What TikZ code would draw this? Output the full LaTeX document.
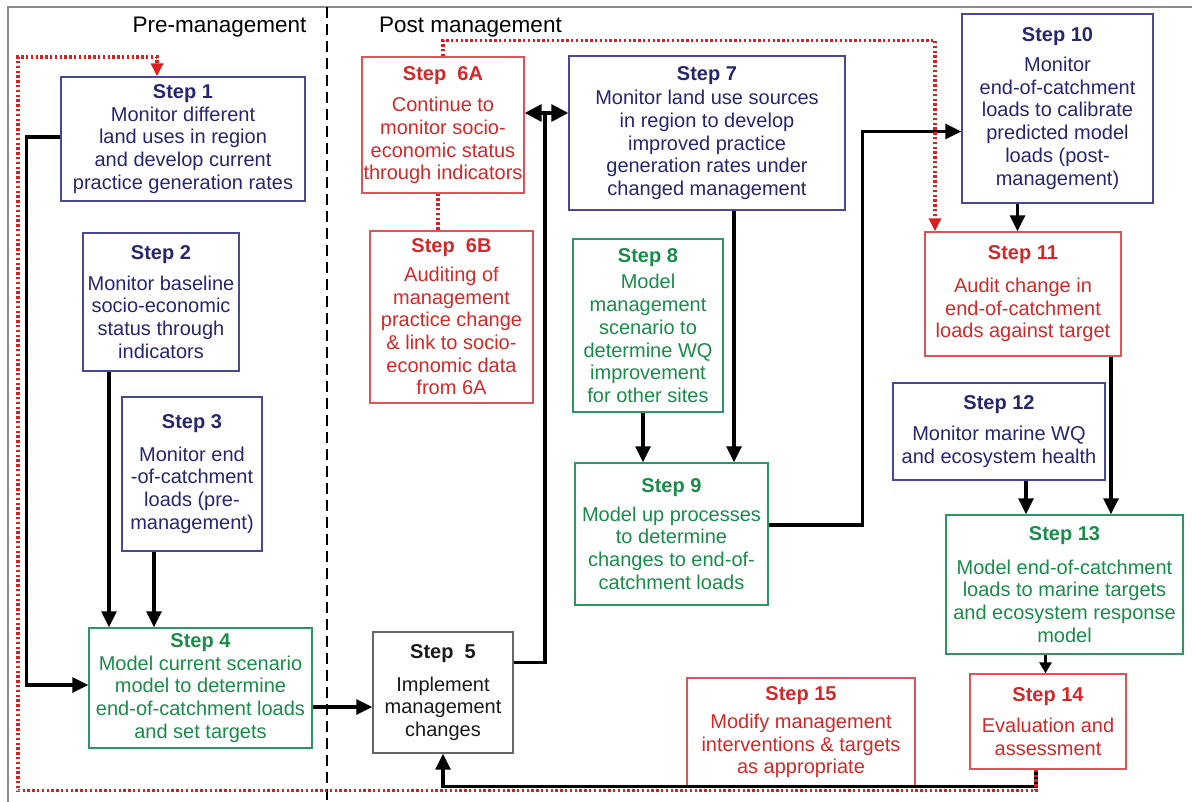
\documentclass[tikz,border=0pt]{standalone}
\usepackage{fontspec}
\setmainfont{Liberation Sans}
\usetikzlibrary{arrows.meta,positioning,calc}

\definecolor{navyline}{RGB}{72,72,150}
\definecolor{navytext}{RGB}{38,38,112}
\definecolor{redline}{RGB}{222,84,84}
\definecolor{redtext}{RGB}{212,40,40}
\definecolor{greenline}{RGB}{46,150,100}
\definecolor{greentext}{RGB}{24,140,72}
\definecolor{framegray}{RGB}{140,140,140}
\definecolor{loopred}{RGB}{222,30,30}

\tikzset{
  stepbox/.style={draw, line width=1.4pt, align=center, inner sep=1pt,
    font=\fontsize{20}{22.7}\selectfont},
  monitor/.style={stepbox, draw=navyline, text=navytext},
  audit/.style={stepbox, draw=redline, text=redtext},
  model/.style={stepbox, draw=greenline, text=greentext},
  action/.style={stepbox, draw=black!60, text=black!90},
  flow/.style={line width=3.2pt, -{Triangle[length=16pt,width=15pt]}},
  feedback/.style={loopred, line width=3.2pt, dash pattern=on 2.4pt off 2.4pt},
  phase/.style={font=\fontsize{22.5}{26}\selectfont, anchor=base},
}

\begin{document}
\begin{tikzpicture}[x=1pt, y=-1pt]
    \useasboundingbox (0,0) rectangle (1192,802);

    % Frame and phase divider
    \draw[framegray, line width=1.2pt] (8,802) -- (8,7) -- (1192,7);
    \draw[line width=2.4pt, dash pattern=on 11pt off 6pt] (327,7) -- (327,802);
    \node[phase] (pre) at (219.5,33) {Pre-management};
    \node[phase] (post) at (470.5,33) {Post management};

    % Pre-management steps
    \node[monitor, minimum width=244pt, minimum height=124pt] (s1) at (183,139)
        {\textbf{Step 1}\\Monitor different\\land uses in region\\and develop current\\practice generation rates};
    \node[monitor, minimum width=156pt, minimum height=138pt] (s2) at (161,302)
        {\textbf{Step 2}\\[8pt]Monitor baseline\\socio-economic\\status through\\indicators};
    \node[monitor, minimum width=140pt, minimum height=154pt] (s3) at (192,474)
        {\textbf{Step 3}\\[10pt]Monitor end\\-of-catchment\\loads (pre-\\management)};
    \node[model, minimum width=223pt, minimum height=120pt] (s4) at (200.5,688)
        {\textbf{Step 4}\\Model current scenario\\model to determine\\end-of-catchment loads\\and set targets};

    % Post management steps
    \node[action, minimum width=140pt, minimum height=121pt] (s5) at (443,692.5)
        {\textbf{Step~~5}\\[10pt]Implement\\management\\changes};
    \node[audit, minimum width=162pt, minimum height=136pt] (s6a) at (443,125)
        {\textbf{Step~~6A}\\[9pt]Continue to\\monitor socio-\\economic status\\through indicators};
    \node[audit, minimum width=163pt, minimum height=172pt] (s6b) at (451.5,317)
        {\textbf{Step~~6B}\\[6pt]Auditing of\\management\\practice change\\\& link to socio-\\economic data\\from 6A};
    \node[monitor, minimum width=276pt, minimum height=154pt] (s7) at (707,133)
        {\textbf{Step 7}\\[2pt]Monitor land use sources\\in region to develop\\improved practice\\generation rates under\\changed management};
    \node[model, minimum width=150pt, minimum height=173pt] (s8) at (648,325.5)
        {\textbf{Step 8}\\[4pt]Model\\management\\scenario to\\determine WQ\\improvement\\for other sites};
    \node[model, minimum width=193pt, minimum height=142pt] (s9) at (671.5,534)
        {\textbf{Step 9}\\[6pt]Model up processes\\to determine\\changes to end-of-\\catchment loads};
    \node[monitor, minimum width=191pt, minimum height=189pt] (s10) at (1057.5,108.5)
        {\textbf{Step 10}\\[7pt]Monitor\\end-of-catchment\\loads to calibrate\\predicted model\\loads (post-\\management)};
    \node[audit, minimum width=196pt, minimum height=124pt] (s11) at (1023,294)
        {\textbf{Step 11}\\[10pt]Audit change in\\end-of-catchment\\loads against target};
    \node[monitor, minimum width=212pt, minimum height=97pt] (s12) at (999,431.5)
        {\textbf{Step 12}\\[8pt]Monitor marine WQ\\and ecosystem health};
    \node[model, minimum width=237pt, minimum height=139pt] (s13) at (1064.5,584.5)
        {\textbf{Step 13}\\[11pt]Model end-of-catchment\\loads to marine targets\\and ecosystem response\\model};
    \node[audit, minimum width=156pt, minimum height=95pt] (s14) at (1048,721.5)
        {\textbf{Step 14}\\[9pt]Evaluation and\\assessment};
    \node[audit, minimum width=228pt, minimum height=109pt] (s15) at (801,732.5)
        {\textbf{Step 15}\\[5pt]Modify management\\interventions \& targets\\as appropriate};

    % Corners of the connectors
    \coordinate (hub) at (545,113);
    \coordinate (looptl) at (18,57);

    % Pre-management flow
    \draw[flow] ([yshift=2pt]s1.west) -- ++(-34,0) |- ([yshift=3pt]s4.west);
    \draw[flow] ([xshift=-52pt]s2.south) -- ([xshift=-52pt]s2.south |- s4.north);
    \draw[flow] ([xshift=-38pt]s3.south) -- ([xshift=-38pt]s3.south |- s4.north);
    \draw[flow] ([yshift=-19pt]s4.east) -- ([yshift=-19pt]s4.east -| s5.west);

    % Step 5 up to Steps 6A and 7
    \draw[line width=3.2pt] ([yshift=30pt]s5.east) -| (hub);
    \draw[line width=3.2pt, {Triangle[length=17pt,width=17pt]}-{Triangle[length=17pt,width=17pt]}]
        (s6a.east |- hub) -- (s7.west |- hub);
    \draw[feedback] ([xshift=-5pt]s6a.south) -- ([xshift=-5pt]s6a.south |- s6b.north);

    % Modelling and monitoring flow
    \draw[flow] ([xshift=27pt]s7.south) -- ([xshift=27pt]s7.south |- s9.north);
    \draw[flow] ([xshift=-5pt]s8.south) -- ([xshift=-5pt]s8.south |- s9.north);
    \draw[flow] ([yshift=9pt]s9.east) -- ++(94,0) |- ([yshift=-23pt]s10.west);
    \draw[flow] ([xshift=-40pt]s10.south) -- ([xshift=-40pt]s10.south |- s11.north);
    \draw[flow] ([xshift=88pt]s11.south) -- ([xshift=88pt]s11.south |- s13.north);
    \draw[flow] ([xshift=27pt]s12.south) -- ([xshift=27pt]s12.south |- s13.north);
    \draw[line width=3.2pt, -{Triangle[length=11pt,width=12pt]}]
        ([xshift=-19pt]s13.south) -- ([xshift=-19pt]s13.south |- s14.north);

    % Step 14 back to Step 5
    \draw[flow] ([xshift=-12pt]s14.south) -- ++(0,17) -| (s5.south);

    % Red feedback loops
    \draw[feedback, -{Triangle[length=13pt,width=12pt]}]
        ([xshift=-12pt]s14.south) -- ++(0,21) -| (looptl) -| ([xshift=-26pt]s1.north);
    \draw[feedback, -{Triangle[length=13pt,width=12pt]}]
        (s6a.north) -- ++(0,-16) -| ([xshift=-88pt]s11.north);
\end{tikzpicture}
\end{document}
